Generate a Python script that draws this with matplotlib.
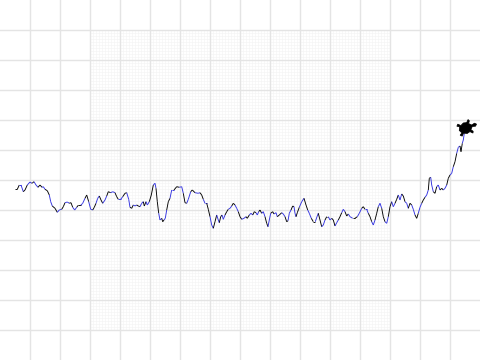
import matplotlib
matplotlib.use('Agg')
import matplotlib.pyplot as plt
import numpy as np
from matplotlib.collections import LineCollection
from matplotlib.patches import Polygon

# path of the walk (x right, y down, canvas units)
walk_x = [15, 17.3, 19.3, 21, 23.3, 25, 27.3, 30, 31.7, 32.7, 34, 36, 38, 40, 42, 43.3, 45, 47.3, 49.3, 50.7,
          52.3, 55, 57.3, 59.3, 61.7, 63.3, 65, 67.3, 69.3, 71, 72.7, 74.7, 76.7, 78.3, 80.7, 82.7, 85, 86.7,
          88.7, 90.7, 92.7, 94.3, 96, 97.7, 99.3, 101, 102.7, 105, 106.7, 108.3, 110.7, 112.7, 115, 116.7,
          118.3, 120.7, 122.7, 125, 126.7, 128.7, 130, 131.7, 133.3, 135, 136.7, 138.3, 140, 141.7, 143.3,
          144.3, 146, 147.3, 149.3, 151.3, 153.3, 155, 156, 157.3, 158.7, 160, 161.7, 162.7, 164, 165.3,
          166.7, 168.3, 170, 171.7, 174, 176.7, 179.3, 181.7, 183.3, 185, 186.7, 188.3, 190.7, 192.3, 195,
          198.3, 200, 201.7, 203.3, 205, 206.7, 208.3, 210, 211.7, 213.3, 215, 216.7, 218.3, 219.3, 220.7,
          222, 223.3, 225, 226.7, 228.3, 230, 231.7, 233.3, 235, 236.7, 238.3, 240, 241.7, 244, 246, 247.3,
          249.3, 251, 252.7, 254.3, 256, 257.3, 258.7, 260, 261.7, 263.3, 265, 266.7, 268, 269.3, 270.7,
          272.7, 274, 276, 277.3, 279.3, 281.7, 283.3, 285, 286.7, 288, 289.3, 291, 292.7, 294, 295, 296,
          297.3, 299.3, 301.7, 304, 306, 307.7, 309.3, 311.3, 313.3, 315.3, 317, 318.3, 320, 321.7, 323.3,
          325, 326.7, 328.3, 330, 331.7, 333.3, 335, 336.7, 338.3, 340, 341.7, 343.3, 345, 346.7, 348.3,
          350, 352.7, 355, 357.3, 359.3, 361.7, 363.3, 365, 366.7, 368.3, 370, 371.7, 373.3, 375, 376.7,
          378.3, 380, 381.7, 383.3, 385, 386.7, 388.3, 390, 391.7, 393.3, 395, 396.7, 398.3, 400, 401.7,
          403.3, 405, 406.7, 408.3, 410, 411.7, 413.3, 415, 416.7, 418.3, 420, 421.7, 423.3, 425, 426.7,
          428.3, 429.3, 430.7, 431.7, 433.3, 435, 436.7, 438.3, 440, 441.7, 443.3, 445, 446.7, 448.3, 450,
          451.7, 453.3, 455, 456.7, 458.3, 460, 461, 462.3, 463.3, 464.3, 465.7]
walk_y = [189.3, 189.3, 185, 185, 191.7, 190, 185, 182, 183.3, 182.7, 181.7, 185, 187.3, 185, 187.3, 186.7,
          189.3, 190.7, 195, 201.7, 206, 208.3, 212.3, 210, 209.3, 206.7, 202.7, 202, 203.3, 202.7, 207.3,
          210, 207.3, 205.3, 205.3, 203.3, 198.3, 195, 201.7, 209.3, 210, 207.3, 203.3, 198.3, 196, 200,
          203.3, 200, 196, 191.7, 192.7, 191.7, 192.7, 196.7, 199.3, 199.3, 196.7, 193.3, 192.7, 199.3,
          207.3, 208.3, 205, 206, 205, 206, 206.7, 203.3, 201.7, 206, 201.7, 205, 201.7, 195, 185, 183.3,
          188.3, 201.7, 213.3, 220, 218.3, 221.7, 220, 218.3, 210, 201.7, 198.3, 190, 190, 186.7, 187.3,
          186.7, 193.3, 202.7, 203.3, 199.3, 191.7, 190, 192.7, 193.3, 192.7, 195, 199.3, 203.3, 203.3,
          209.3, 216.7, 225, 228.3, 221.7, 215, 220, 222.7, 216.7, 215, 219.3, 215, 211.7, 209.3, 208.3,
          206, 203.3, 205, 208.3, 211.7, 216.7, 219.3, 218.3, 216.7, 218.3, 215, 213.3, 215, 211.7, 212.7,
          215, 211.7, 210, 213.3, 211.7, 216.7, 223.3, 226.7, 220, 213.3, 211.7, 214, 212.7, 216.7, 215,
          212.7, 214, 216.7, 221.7, 220.7, 213.3, 210, 206, 206.7, 213.3, 216.7, 212.7, 207.3, 201.7, 198.3,
          205, 210, 213.3, 218.3, 221.7, 221.7, 216.7, 213.3, 220, 226.7, 225, 220, 216.7, 216.7, 220, 218.3,
          220, 226, 222.7, 220, 216.7, 212.7, 209.3, 211.7, 216, 214, 216.7, 218.3, 218.3, 216.7, 213.3,
          208.3, 206.7, 209.3, 209.3, 213.3, 216.7, 221.7, 225, 220, 213.3, 206.7, 203.3, 208.3, 216.7,
          221.7, 223.3, 216.7, 206.7, 201.7, 206.7, 203.3, 199.3, 195, 200, 194, 196, 201.7, 203.3, 208.3,
          203.3, 205, 209.3, 215, 218.3, 213.3, 207.3, 203.3, 200, 197.3, 195, 190, 178.3, 177.3, 185, 191.7,
          193.3, 186.7, 185, 190, 188.3, 190, 188.3, 185, 178.3, 175, 173.3, 166.7, 161.7, 153.3, 147.3, 146,
          151.7, 143.3, 140, 133.3, 129.3]

# classic turtle outline (shape units), where it sits and which way it faces
turtle_shape = [(0, 16), (-2, 14), (-1, 10), (-4, 7), (-7, 9), (-9, 8), (-6, 5), (-7, 1), (-5, -3),
                (-8, -6), (-6, -8), (-4, -5), (0, -7), (4, -5), (6, -8), (8, -6), (5, -3), (7, 1),
                (6, 5), (9, 8), (7, 9), (4, 7), (1, 10), (2, 14)]
turtle_pos = (464.5, 128.5)
turtle_heading = 20  # degrees above the x axis

fig = plt.figure(figsize=(4.8, 3.6), dpi=100)
ax = fig.add_axes([0, 0, 1, 1])
ax.set_xlim(0, 480)
ax.set_ylim(360, 0)
ax.axis('off')

# fine grid in the middle square
fine = np.arange(90, 391, 3)
ax.vlines(fine, 30, 330, color='#f5f5f5', lw=0.5, zorder=0)
ax.hlines(fine - 60, 90, 390, color='#f5f5f5', lw=0.5, zorder=0)

# coarse grid everywhere
for v in range(30, 480, 30):
    ax.axvline(v, color='#e4e4e4', lw=1.0, zorder=1)
for h in range(30, 360, 30):
    ax.axhline(h, color='#e4e4e4', lw=1.0, zorder=1)

# the walk, pen switching between black and blue
pts = np.column_stack([walk_x, walk_y])
segs = np.stack([pts[:-1], pts[1:]], axis=1)
cols = ['#000000' if (i // 2) % 2 == 0 else '#3030e0' for i in range(len(segs))]
ax.add_collection(LineCollection(segs, colors=cols, linewidths=0.65, zorder=3))

# turtle on the end point
th = np.radians(turtle_heading - 90)
sc = 0.8
shape = np.array(turtle_shape, dtype=float)
rx = shape[:, 0] * np.cos(th) - shape[:, 1] * np.sin(th)
ry = shape[:, 0] * np.sin(th) + shape[:, 1] * np.cos(th)
poly = np.column_stack([turtle_pos[0] + sc * rx, turtle_pos[1] - sc * ry])
ax.add_patch(Polygon(poly, closed=True, facecolor='black', edgecolor='black', lw=0.5, zorder=4))

fig.savefig('out.png', dpi=100)
